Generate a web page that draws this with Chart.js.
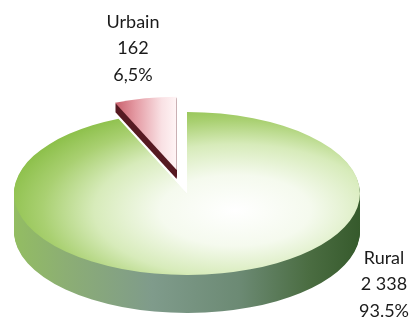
<!DOCTYPE html>
<html><head><meta charset="utf-8">
<script src="https://cdn.jsdelivr.net/npm/chart.js@4"></script>
<style>html,body{margin:0;padding:0;background:#fff}#c{display:block}</style>
</head><body>
<canvas id="c" width="414" height="318"></canvas>
<script>
// ---- data ----
const categories = ['Rural', 'Urbain'];
const values = [2338, 162];
const valueLabels = ['2 338', '162'];
const percentLabels = ['93.5%', '6,5%'];

// ---- 3D look ----
const TILT = 0.471;        // vertical squish of the disc
const SCREEN_CY = 193.5;   // where the disc centre lands on screen
const DEPTH = 38;          // extrusion (screen px) for the big slice
const DEPTH_SMALL = 9;     // extrusion for the exploded slice
const EXPLODE = 51;        // explode distance (circle units)
const SMALL_SCALE = 0.9;   // perspective shrink of the exploded slice

function topGradient(ctx, i, cx, cy) {
  if (i === 0) {
    const g = ctx.createRadialGradient(cx + 48, cy + 36, 0, cx + 48, cy + 36, 235);
    g.addColorStop(0, '#ffffff');
    g.addColorStop(0.32, '#f5faee');
    g.addColorStop(0.6, '#d7ebba');
    g.addColorStop(0.82, '#a9d071');
    g.addColorStop(1, '#8bbf48');
    return g;
  }
  const g = ctx.createLinearGradient(cx - 75, 0, cx, 0);
  g.addColorStop(0, '#b63846');
  g.addColorStop(0.45, '#e49aa3');
  g.addColorStop(0.8, '#f9e1e4');
  g.addColorStop(1, '#fff5f6');
  return g;
}
function sideGradient(ctx, i, cx) {
  if (i === 0) {
    const g = ctx.createLinearGradient(cx - 173, 0, cx + 173, 0);
    g.addColorStop(0, '#93bd62');
    g.addColorStop(0.15, '#8cae74');
    g.addColorStop(0.4, '#7f9b8b');
    g.addColorStop(0.65, '#6c8a74');
    g.addColorStop(0.85, '#4b6d42');
    g.addColorStop(1, '#365a2c');
    return g;
  }
  return '#561a22';
}

const pie3d = {
  id: 'pie3d',
  beforeDatasetDraw(chart, args) {
    const ctx = chart.ctx;
    const arcs = args.meta.data;
    const cx = arcs[0].x, cy = arcs[0].y;
    const paint = (i, dy, kind) => {
      const arc = arcs[i];
      ctx.save();
      ctx.translate(cx, SCREEN_CY + dy);
      ctx.scale(1, TILT);
      ctx.translate(-cx, -cy);
      const p = Object.create(arc);
      if (i === 1) {
        const half = (arc.startAngle + arc.endAngle) / 2;
        ctx.translate(Math.cos(half) * EXPLODE, Math.sin(half) * EXPLODE);
        p.outerRadius = arc.outerRadius * SMALL_SCALE;
      }
      const fill = kind === 'top' ? topGradient(ctx, i, cx, cy) : sideGradient(ctx, i, cx);
      p.options = Object.assign({}, arc.options, {backgroundColor: fill, borderWidth: 0, offset: 0});
      p.draw(ctx);
      ctx.restore();
    };
    for (let s = DEPTH; s >= 1; s--) paint(0, s, 'side');
    paint(0, 0, 'top');
    for (let s = DEPTH_SMALL; s >= 1; s--) paint(1, s, 'side');
    paint(1, 0, 'top');
    return false;
  }
};

const labelsPlugin = {
  id: 'sliceLabels',
  afterDraw(chart) {
    const ctx = chart.ctx;
    ctx.save();
    ctx.font = '18px Lato';
    ctx.fillStyle = '#1a1a1a';
    ctx.textAlign = 'center';
    ctx.textBaseline = 'middle';
    const spots = [{x: 384, y: 258}, {x: 133, y: 22}];
    categories.forEach((c, i) => {
      const s = spots[i];
      ctx.fillText(c, s.x, s.y);
      ctx.fillText(valueLabels[i], s.x, s.y + 26.5);
      ctx.fillText(percentLabels[i], s.x, s.y + 53);
    });
    ctx.restore();
  }
};

new Chart(document.getElementById('c'), {
  type: 'pie',
  data: {
    labels: categories,
    datasets: [{
      data: values,
      backgroundColor: ['#b5d68a', '#d9737f'],
      borderWidth: 0,
      clip: false
    }]
  },
  options: {
    responsive: false,
    animation: false,
    radius: 173,
    layout: {padding: {left: 0, right: 40, top: 0, bottom: 0}},
    plugins: {legend: {display: false}, tooltip: {enabled: false}, title: {display: false}}
  },
  plugins: [pie3d, labelsPlugin]
});
</script>
</body></html>
